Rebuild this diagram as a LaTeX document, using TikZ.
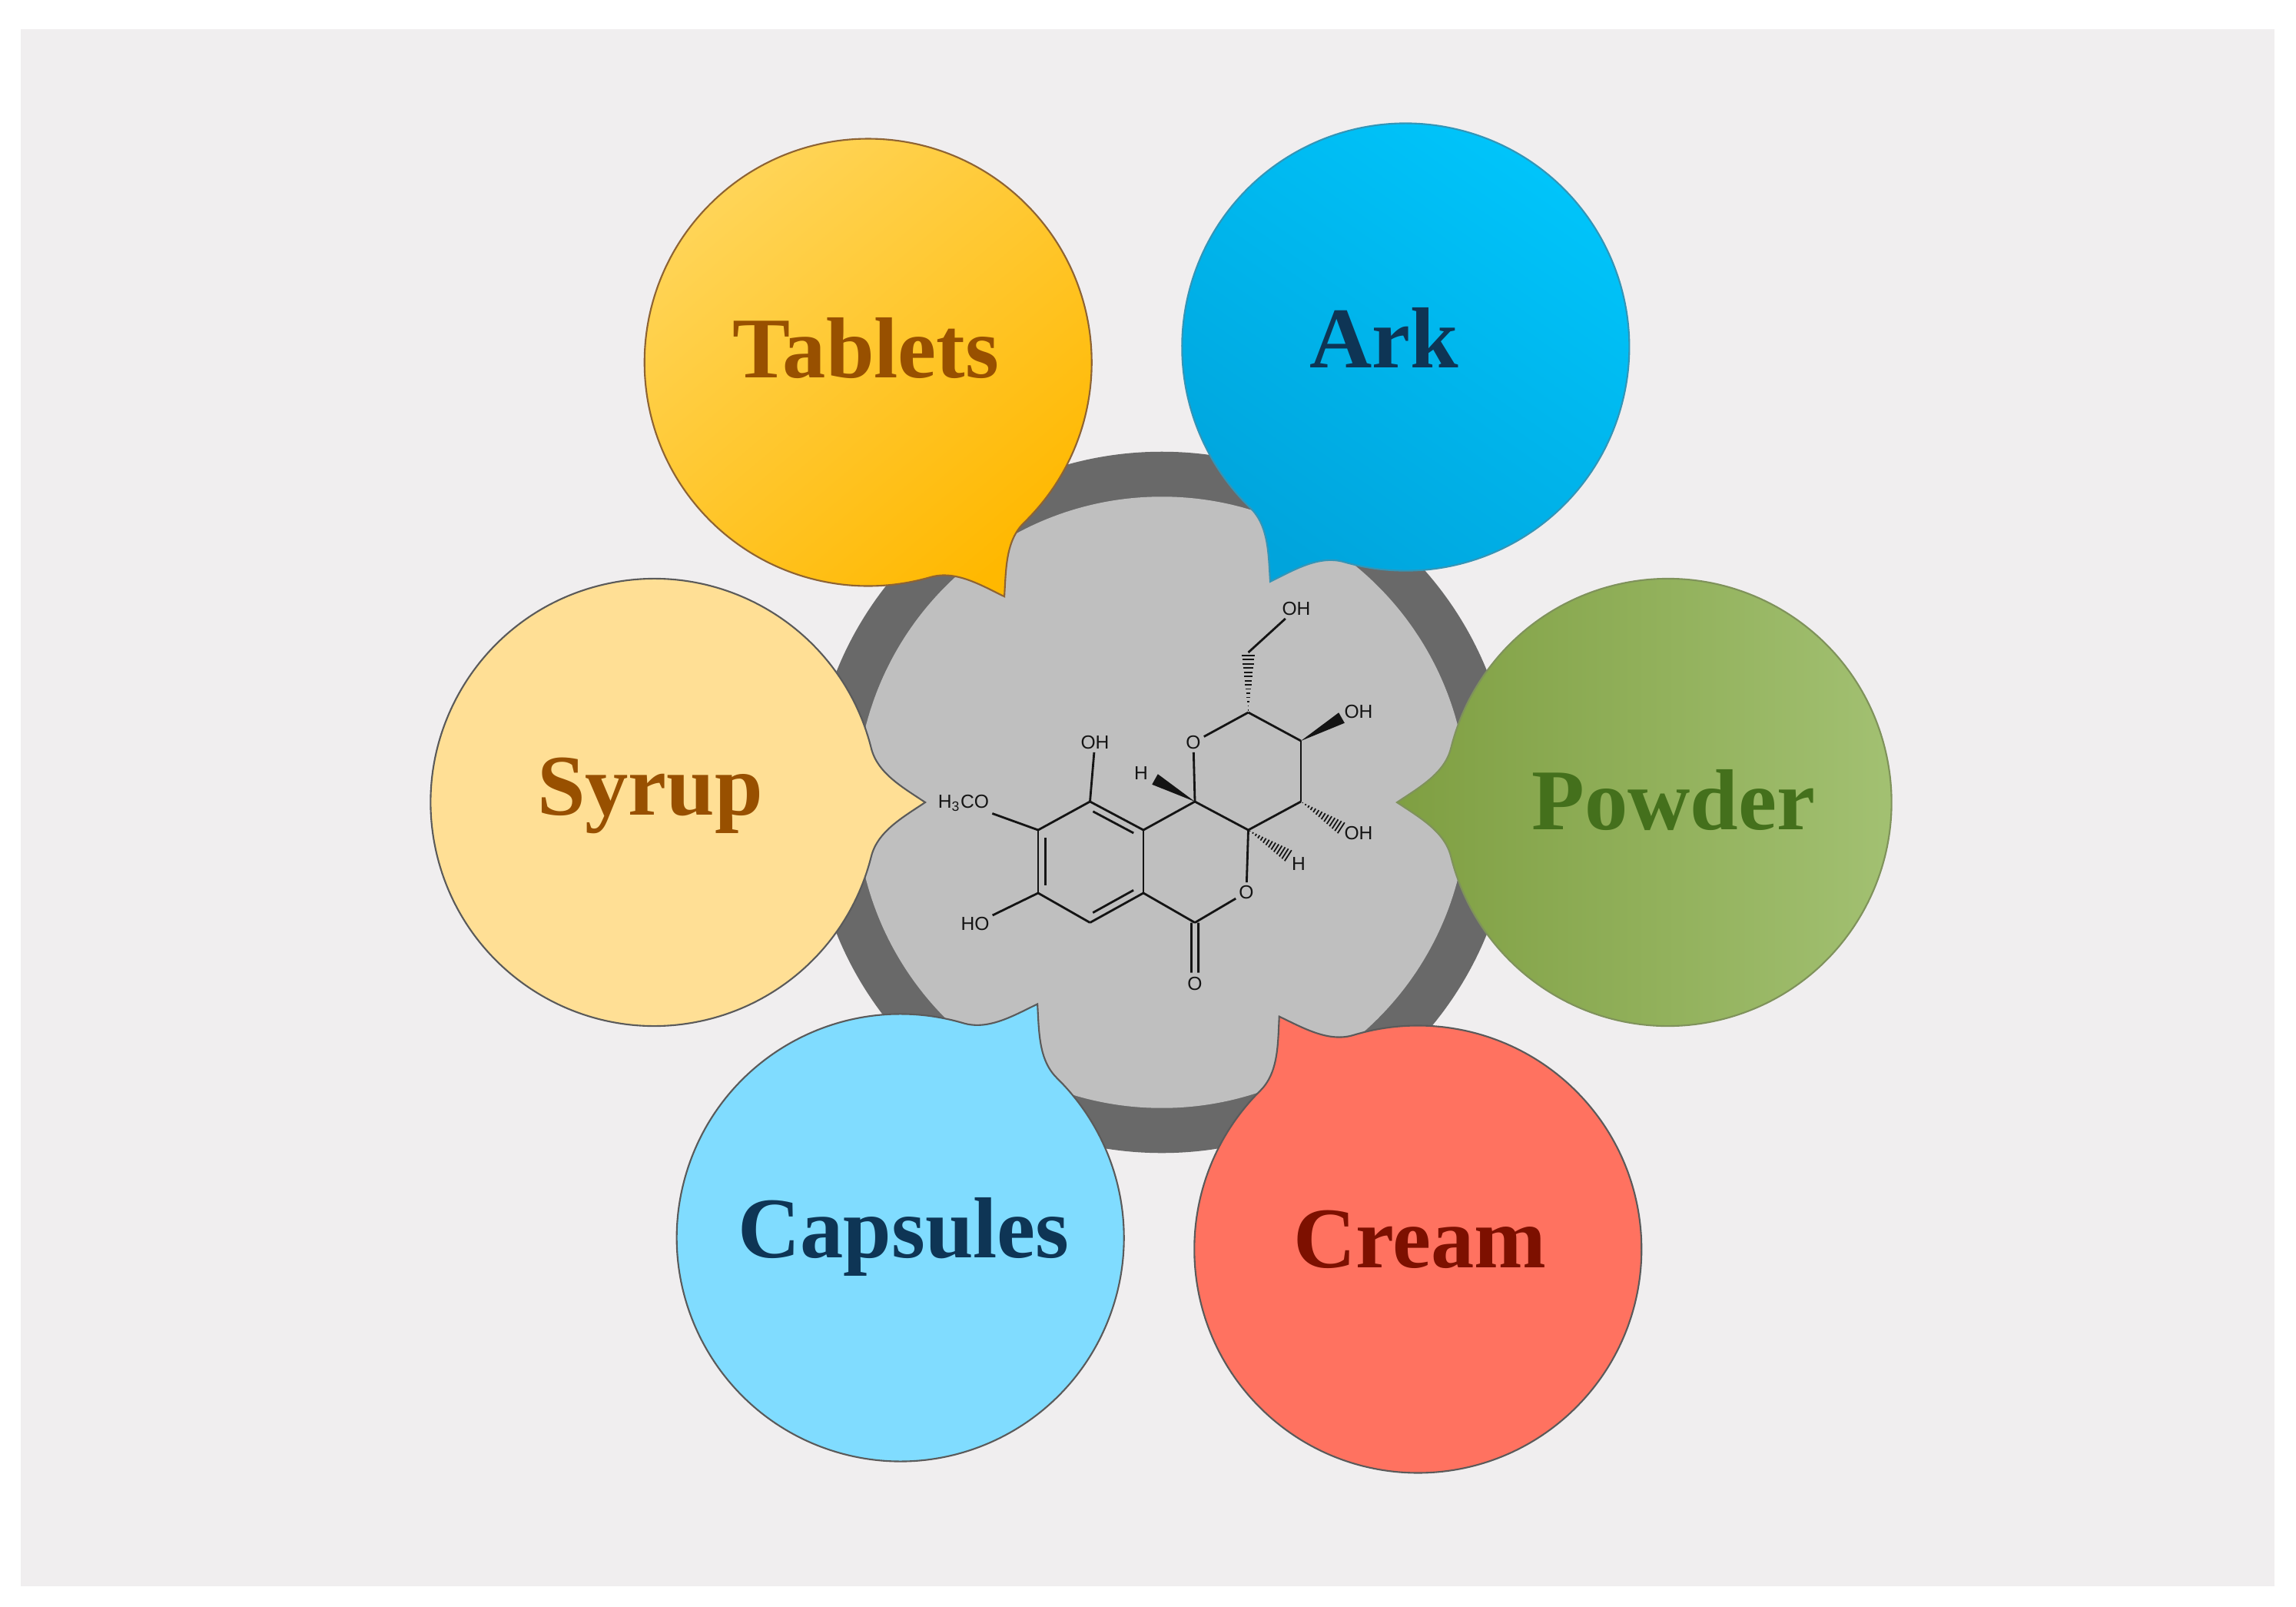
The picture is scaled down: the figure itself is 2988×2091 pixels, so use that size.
\documentclass[tikz,border=0pt]{standalone}
\usepackage{fontspec}
\setmainfont{Liberation Serif}
\newfontfamily\atomfont{Liberation Sans}
\usetikzlibrary{calc}

\definecolor{bgpanel}{HTML}{F0EEEF}
\definecolor{ringdark}{HTML}{696969}
\definecolor{ringlight}{HTML}{BFBFBF}
\definecolor{bubbleline}{HTML}{5A5A5A}
\definecolor{bondcol}{HTML}{141414}
\definecolor{tabA}{HTML}{FFD65C}
\definecolor{tabB}{HTML}{FFCA20}
\definecolor{tabC}{HTML}{FFB800}
\definecolor{arkA}{HTML}{00A4DC}
\definecolor{arkB}{HTML}{00C4FA}
\definecolor{arkC}{HTML}{00C6FC}
\definecolor{powA}{HTML}{7F9F42}
\definecolor{powB}{HTML}{9CBD60}
\definecolor{powC}{HTML}{A4C274}
\definecolor{syrfill}{HTML}{FFDF95}
\definecolor{capfill}{HTML}{80DCFF}
\definecolor{crefill}{HTML}{FF7260}
\definecolor{brownlabel}{HTML}{985000}
\definecolor{navylabel}{HTML}{0E3555}
\definecolor{greenlabel}{HTML}{44701C}
\definecolor{redlabel}{HTML}{7D1000}

\tikzset{
  bubble/.style={draw=bubbleline, line width=0.6pt},
  bubblelabel/.style={anchor=base, inner sep=0pt, font=\fontsize{32}{36}\selectfont\bfseries},
  atom/.style={inner sep=1pt, font=\atomfont\fontsize{7}{8}\selectfont, text=bondcol},
  bond/.style={draw=bondcol, line width=0.8pt}
}

\newcommand{\drawbubble}[3]{
  \begin{scope}[shift={(#1)}, rotate=#2]
    \draw[bubble, #3] (352,0) .. controls (322,20) and (290,38) .. (281.8,70.4)
      arc[start angle=14, end angle=346, radius=291]
      .. controls (290,-38) and (322,-20) .. (352,0) -- cycle;
  \end{scope}
}
\newcommand{\dblbond}[3]{
  \draw[bond] ($(#1)!.12!(#2)!2.7pt!#3:(#2)$) -- ($(#1)!.88!(#2)!2.7pt!#3:(#2)$);
}
\newcommand{\wedgebond}[2]{
  \fill[bondcol] (#1) -- ($(#2)!2.2pt!90:(#1)$) -- ($(#2)!2.2pt!-90:(#1)$) -- cycle;
}
\newcommand{\hashbond}[2]{
  \foreach \t in {0.04,0.11,...,1} {
    \draw[bondcol, line width=0.5pt] ($(#1)!\t!(#2)!\t*2.5pt!90:(#2)$) -- ($(#1)!\t!(#2)!\t*2.5pt!-90:(#2)$);
  }
}

\begin{document}
\begin{tikzpicture}[x=0.01cm, y=0.01cm]
    \useasboundingbox (0,0) rectangle (2988,-2091);
    \fill[bgpanel] (27,-38) rectangle (2960,-2064);

    \node[circle, fill=ringdark, minimum size=9.12cm, inner sep=0pt] (hub) at (1512,-1044) {};
    \node[circle, fill=ringlight, minimum size=7.95cm, inner sep=0pt] (hubin) at (1512,-1044) {};

    % molecule
    \coordinate (c1) at (1418.5,-1043);
    \coordinate (c2) at (1351,-1080);
    \coordinate (c3) at (1351,-1162);
    \coordinate (c4) at (1418.5,-1200.5);
    \coordinate (c5) at (1488,-1162);
    \coordinate (c6) at (1488,-1080);
    \coordinate (c7) at (1555,-1043);
    \coordinate (c8) at (1624.5,-1080);
    \coordinate (c9) at (1555,-1200.5);
    \coordinate (c10) at (1624.5,-927);
    \coordinate (c11) at (1693,-964);
    \coordinate (c12) at (1693,-1043);
    \coordinate (c13) at (1624.5,-849);
    \coordinate (w1) at (1503,-1014);
    \coordinate (w2) at (1746,-934);
    \coordinate (w3) at (1748,-1079);
    \coordinate (w4) at (1679,-1115);

    \node[atom] (o1) at (1553,-966) {O};
    \node[atom] (o2) at (1622,-1161) {O};
    \node[atom] (o3) at (1555,-1280) {O};
    \node[atom] (oh1) at (1425,-966) {OH};
    \node[atom] (oh2) at (1687,-792) {OH};
    \node[atom] (oh3) at (1768,-926) {OH};
    \node[atom] (oh4) at (1768,-1084) {OH};
    \node[atom] (oh5) at (1269,-1202) {HO};
    \node[atom] (ome) at (1254,-1045) {H\textsubscript{3}CO};
    \node[atom] (h1) at (1485,-1006) {H};
    \node[atom] (h2) at (1690,-1124) {H};

    \foreach \a/\b in {c1/c2, c2/c3, c3/c4, c4/c5, c5/c6, c6/c1, c6/c7, c7/c8, c8/c12, c12/c11,
                       c11/c10, c10/o1, o1/c7, c8/o2, o2/c9, c9/c5, c1/oh1, c2/ome, c3/oh5, c13/oh2}
        \draw[bond] (\a) -- (\b);
    \dblbond{c1}{c6}{-90}
    \dblbond{c2}{c3}{90}
    \dblbond{c4}{c5}{90}
    \draw[bond] ($(c9)!1.3pt!90:(o3)$) -- ($(c9)!.82!(o3)!1.3pt!90:(o3)$);
    \draw[bond] ($(c9)!1.3pt!-90:(o3)$) -- ($(c9)!.82!(o3)!1.3pt!-90:(o3)$);
    \wedgebond{c7}{w1}
    \wedgebond{c11}{w2}
    \hashbond{c10}{c13}
    \hashbond{c12}{w3}
    \hashbond{c8}{w4}

    % bubbles
    \drawbubble{1130,-472}{-59.8}{draw=brownlabel!60!gray, left color=tabA, middle color=tabB, right color=tabC, shading angle=40}
    \drawbubble{1829,-452}{-120}{draw=arkA!60!gray, left color=arkA, middle color=arkB, right color=arkC, shading angle=145}
    \drawbubble{852,-1044}{0}{fill=syrfill}
    \drawbubble{2170,-1044}{180}{draw=powA!60!gray, left color=powA, middle color=powB, right color=powC, shading angle=90}
    \drawbubble{1172,-1610}{59.6}{fill=capfill}
    \drawbubble{1845,-1625}{120.8}{fill=crefill}

    \node[bubblelabel, text=brownlabel] (tablets) at (1127,-491) {Tablets};
    \node[bubblelabel, text=navylabel] (ark) at (1801,-478) {Ark};
    \node[bubblelabel, text=brownlabel] (syrup) at (846,-1060) {Syrup};
    \node[bubblelabel, text=greenlabel] (powder) at (2178,-1079) {Powder};
    \node[bubblelabel, text=navylabel] (capsules) at (1176,-1636) {Capsules};
    \node[bubblelabel, text=redlabel] (cream) at (1848,-1649) {Cream};
\end{tikzpicture}
\end{document}
